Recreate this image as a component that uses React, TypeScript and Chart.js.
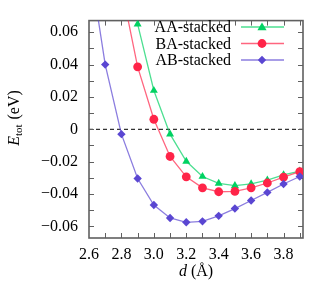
import React, { useEffect, useRef } from 'react';
import { Chart, registerables } from 'chart.js';

Chart.register(...registerables);

// ---- data ----
const distances = [2.6, 2.7, 2.8, 2.9, 3.0, 3.1, 3.2, 3.3, 3.4, 3.5, 3.6, 3.7, 3.8, 3.9];
const aaStacked = [null, null, null, 0.065, 0.024, -0.003, -0.0198, -0.0292, -0.0334, -0.0348, -0.0338, -0.0314, -0.0282, -0.0258];
const baStacked = [null, null, 0.088, 0.0386, 0.0062, -0.0168, -0.0294, -0.0362, -0.0386, -0.0384, -0.0362, -0.0332, -0.0296, -0.0262];
const abStacked = [0.105, 0.04, -0.003, -0.0304, -0.0468, -0.0548, -0.0575, -0.0569, -0.0535, -0.049, -0.044, -0.039, -0.0338, -0.0292];
const seriesNames = ['AA-stacked', 'BA-stacked', 'AB-stacked'];

const xTickLabels = [2.6, 2.8, 3.0, 3.2, 3.4, 3.6, 3.8];
const xTickMarks = [2.7, 2.8, 2.9, 3.0, 3.1, 3.2, 3.3, 3.4, 3.5, 3.6, 3.7, 3.8, 3.9];
const yTickLabels = [-0.06, -0.04, -0.02, 0, 0.02, 0.04, 0.06];
const yTickMarks = [-0.06, -0.05, -0.04, -0.03, -0.02, -0.01, 0, 0.01, 0.02, 0.03, 0.04, 0.05, 0.06];

const X_MIN = 2.6;
const X_MAX = 3.92;
const Y_MIN = -0.0672;
const Y_MAX = 0.0672;

const FONT = "'Liberation Serif', 'Times New Roman', serif";
const markerColors = ['#00d262', '#ff2448', '#5a46d2'];
const lineColors = ['rgba(0,210,98,0.7)', 'rgba(255,36,72,0.7)', 'rgba(90,70,210,0.7)'];
const pointStyles = ['triangle', 'circle', 'rectRot'];
const pointRadii = [4.6, 4.4, 4.2];

function drawMarker(ctx: CanvasRenderingContext2D, style: string, x: number, y: number, r: number, color: string) {
  ctx.save();
  ctx.fillStyle = color;
  ctx.beginPath();
  if (style === 'circle') {
    ctx.arc(x, y, r, 0, Math.PI * 2);
  } else if (style === 'triangle') {
    for (let k = 0; k < 3; k++) {
      const a = -Math.PI / 2 + (k * 2 * Math.PI) / 3;
      const px = x + Math.cos(a) * r * 1.15;
      const py = y + Math.sin(a) * r * 1.15 + r * 0.15;
      if (k === 0) ctx.moveTo(px, py);
      else ctx.lineTo(px, py);
    }
    ctx.closePath();
  } else {
    ctx.moveTo(x, y - r);
    ctx.lineTo(x + r, y);
    ctx.lineTo(x, y + r);
    ctx.lineTo(x - r, y);
    ctx.closePath();
  }
  ctx.fill();
  ctx.restore();
}

const fmtY = (v: number) => (Math.abs(v) < 1e-9 ? '0' : (v < 0 ? '\u2212' : '') + Math.abs(v).toFixed(2));

const decorPlugin = {
  id: 'decor',
  beforeDatasetsDraw(chart: any) {
    const { ctx, chartArea: a, scales } = chart;
    const xs = scales.x;
    const ys = scales.y;
    ctx.save();
    // zero line
    const y0 = ys.getPixelForValue(0);
    ctx.strokeStyle = '#000';
    ctx.lineWidth = 1;
    ctx.setLineDash([4, 3]);
    ctx.beginPath();
    ctx.moveTo(a.left, y0);
    ctx.lineTo(a.right, y0);
    ctx.stroke();
    ctx.setLineDash([]);
    // ticks
    ctx.strokeStyle = '#606060';
    ctx.lineWidth = 1;
    const tl = 5;
    ctx.beginPath();
    xTickMarks.forEach((v) => {
      const px = Math.round(xs.getPixelForValue(v)) + 0.5;
      ctx.moveTo(px, a.bottom);
      ctx.lineTo(px, a.bottom - tl);
      ctx.moveTo(px, a.top);
      ctx.lineTo(px, a.top + tl);
    });
    yTickMarks.forEach((v) => {
      const py = Math.round(ys.getPixelForValue(v)) + 0.5;
      ctx.moveTo(a.left, py);
      ctx.lineTo(a.left + tl, py);
      ctx.moveTo(a.right, py);
      ctx.lineTo(a.right - tl, py);
    });
    ctx.stroke();
    // frame
    ctx.lineWidth = 1.6;
    ctx.strokeRect(a.left, a.top, a.right - a.left, a.bottom - a.top);
    ctx.restore();
  },
  afterDraw(chart: any) {
    const { ctx, chartArea: a } = chart;
    ctx.save();
    // legend
    const rows = [27, 43.5, 60];
    ctx.font = `16px ${FONT}`;
    ctx.textAlign = 'right';
    ctx.textBaseline = 'middle';
    seriesNames.forEach((name, i) => {
      const y = rows[i];
      ctx.fillStyle = '#000';
      ctx.fillText(name, 231, y + 1);
      ctx.strokeStyle = lineColors[i];
      ctx.lineWidth = 1.4;
      ctx.beginPath();
      ctx.moveTo(241, y);
      ctx.lineTo(284, y);
      ctx.stroke();
      drawMarker(ctx, pointStyles[i], 262, y, pointRadii[i], markerColors[i]);
    });
    // x title
    const cx = (a.left + a.right) / 2;
    ctx.fillStyle = '#000';
    ctx.textBaseline = 'middle';
    ctx.textAlign = 'left';
    ctx.font = `italic 16px ${FONT}`;
    const dW = ctx.measureText('d').width;
    ctx.font = `16px ${FONT}`;
    const restX = ' (\u00C5)';
    const rW = ctx.measureText(restX).width;
    const sx = cx - (dW + rW) / 2;
    ctx.font = `italic 16px ${FONT}`;
    ctx.fillText('d', sx, 272);
    ctx.font = `16px ${FONT}`;
    ctx.fillText(restX, sx + dW, 272);
    // y title
    ctx.translate(15, 118);
    ctx.rotate(-Math.PI / 2);
    ctx.font = `italic 16px ${FONT}`;
    const eW = ctx.measureText('E').width;
    ctx.font = `11px ${FONT}`;
    const sW = ctx.measureText('tot').width;
    ctx.font = `16px ${FONT}`;
    const restY = ' (eV)';
    const yW = ctx.measureText(restY).width;
    let tx = -(eW + sW + 1 + yW) / 2;
    ctx.font = `italic 16px ${FONT}`;
    ctx.fillText('E', tx, 0);
    tx += eW;
    ctx.font = `11px ${FONT}`;
    ctx.fillText('tot', tx, 4);
    tx += sW + 1;
    ctx.font = `16px ${FONT}`;
    ctx.fillText(restY, tx, 0);
    ctx.restore();
  },
};

export default function App() {
  const ref = useRef<HTMLCanvasElement | null>(null);
  useEffect(() => {
    if (!ref.current) return;
    const series = [aaStacked, baStacked, abStacked];
    const chart = new Chart(ref.current, {
      type: 'line',
      data: {
        datasets: series.map((vals, i) => ({
          label: seriesNames[i],
          data: distances.map((x, j) => ({ x, y: vals[j] })),
          borderColor: lineColors[i],
          backgroundColor: markerColors[i],
          pointBackgroundColor: markerColors[i],
          pointBorderColor: markerColors[i],
          pointBorderWidth: 0,
          pointStyle: pointStyles[i],
          pointRadius: pointRadii[i],
          borderWidth: 1.3,
          tension: 0,
          fill: false,
          clip: 0,
          order: 3 - i,
        })) as any,
      },
      options: {
        responsive: false,
        maintainAspectRatio: false,
        animation: false,
        devicePixelRatio: 1,
        layout: { padding: { left: 0, top: 15, right: 29, bottom: 0 } },
        plugins: { legend: { display: false }, tooltip: { enabled: false } },
        scales: {
          x: {
            type: 'linear',
            min: X_MIN,
            max: X_MAX,
            afterBuildTicks: (s: any) => {
              s.ticks = xTickLabels.map((v) => ({ value: v }));
            },
            afterFit: (s: any) => {
              s.height = 53;
            },
            ticks: {
              callback: (v: any) => Number(v).toFixed(1),
              font: { family: FONT, size: 16 },
              color: '#000',
              padding: 7,
              maxRotation: 0,
              autoSkip: false,
            },
            grid: { display: false, drawTicks: false },
            border: { display: false },
          },
          y: {
            type: 'linear',
            min: Y_MIN,
            max: Y_MAX,
            afterBuildTicks: (s: any) => {
              s.ticks = yTickLabels.map((v) => ({ value: v }));
            },
            afterFit: (s: any) => {
              s.width = 89;
            },
            ticks: {
              callback: (v: any) => fmtY(Number(v)),
              font: { family: FONT, size: 16 },
              color: '#000',
              padding: 11,
              autoSkip: false,
            },
            grid: { display: false, drawTicks: false },
            border: { display: false },
          },
        },
      },
      plugins: [decorPlugin],
    });
    return () => chart.destroy();
  }, []);
  return (
    <div style={{ position: 'absolute', left: 0, top: 0, width: 332, height: 291, background: '#fff' }}>
      <canvas ref={ref} width={332} height={291} style={{ display: 'block' }} />
    </div>
  );
}
